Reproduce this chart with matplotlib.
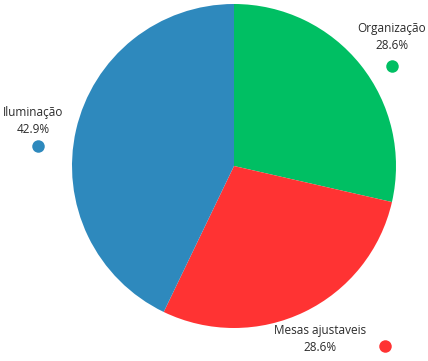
import matplotlib.pyplot as plt

# Data
labels = ['Organização', 'Mesas ajustaveis', 'Iluminação']
values = [2, 2, 3]
colors = ['#00bf63', '#ff3333', '#2e89bd']

plt.rcParams['font.family'] = ['Open Sans', 'DejaVu Sans']

fig = plt.figure(figsize=(4.28, 3.61), dpi=100)
ax = fig.add_axes([0, 0, 1, 1])

H = 361
ax.pie(values, colors=colors, startangle=90, counterclock=False,
       center=(234, H - 166), radius=162, frame=True,
       wedgeprops=dict(linewidth=0))
ax.set_xlim(0, 428)
ax.set_ylim(0, 361)
ax.axis('off')

pct = [v / sum(values) * 100 for v in values]

# label positions (text center, dot)
text_pos = [(392, 37), (320, 339), (33, 121)]
dot_pos = [(392, 66), (385, 346), (38, 146)]
for lab, p, (tx, ty), (dx, dy) in zip(labels, pct, text_pos, dot_pos):
    ax.text(tx, H - ty, f'{lab}\n{p:.1f}%', ha='center', va='center',
            fontsize=8.5, color='#2b2b2b', linespacing=1.45)
    ax.plot(dx, H - dy, 'o', color=colors[labels.index(lab)], markersize=9,
            markeredgewidth=0)

fig.savefig('out.png', dpi=100)
